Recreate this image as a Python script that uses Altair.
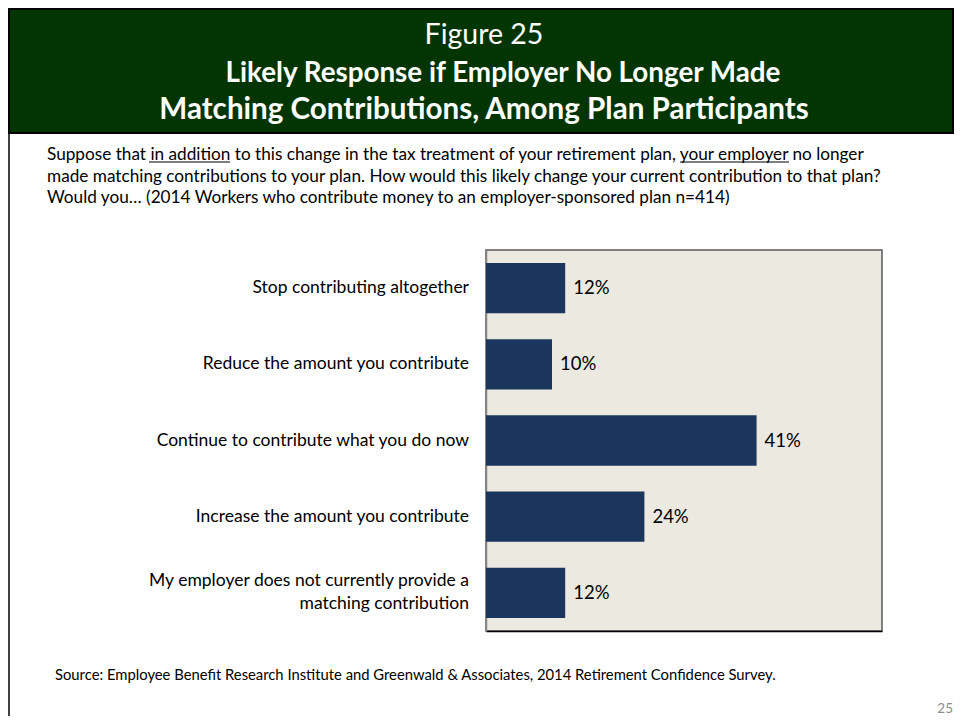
import altair as alt
import pandas as pd

# ---------------- data ----------------
categories = [
    "Stop contributing altogether",
    "Reduce the amount you contribute",
    "Continue to contribute what you do now",
    "Increase the amount you contribute",
    "My employer does not currently provide a|matching contribution",
]
values = [12, 10, 41, 24, 12]
value_labels = ["12%", "10%", "41%", "24%", "12%"]

title_line1 = "Figure 25"
title_bold_lines = [
    "Likely Response if Employer No Longer Made",
    "Matching Contributions, Among Plan Participants",
]
question_lines = [
    "Suppose that in addition to this change in the tax treatment of your retirement plan, your employer no longer",
    "made matching contributions to your plan. How would this likely change your current contribution to that plan?",
    "Would you\u2026 (2014 Workers who contribute money to an employer-sponsored plan n=414)",
]
source_text = "Source:  Employee Benefit Research Institute and Greenwald & Associates, 2014 Retirement Confidence Survey."
page_number = "25"

# ---------------- style ----------------
FONT = "Lato"
GREEN = "#033503"
NAVY = "#1b365d"
BEIGE = "#ece9e0"

W, H = 396, 381          # plot area
PAD_L, PAD_T = 478, 242  # plot origin at page (486, 250)
SVG_W, SVG_H = 946, 708
LABEL_LH = 23


def px(x):
    return x - 486


def py(y):
    return y - 250


df = pd.DataFrame({"cat": categories, "val": values, "lab": value_labels})
df["nlines"] = df["cat"].str.count(r"\|") + 1
one = pd.DataFrame({"a": [0]})

base = alt.Chart(df)
ysc = alt.Scale(paddingInner=0.34, paddingOuter=0.17)

bars = base.mark_bar(color=NAVY).encode(
    x=alt.X("val:Q", scale=alt.Scale(domain=[0, 60]),
            axis=alt.Axis(labels=False, ticks=False, grid=False, title=None,
                          domainColor="#000000", domainWidth=1.5)),
    y=alt.Y("cat:N", sort=categories, scale=ysc,
            axis=alt.Axis(title=None, ticks=False, labels=False,
                          domainColor="#868686", domainWidth=1.5)),
)

bar_text = base.mark_text(align="left", baseline="middle", dx=8, font=FONT,
                          fontSize=18.5, color="#000000").encode(
    x=alt.X("val:Q"), y=alt.Y("cat:N", sort=categories), text="lab:N")

cat_label_base = base.transform_calculate(
    txt="split(datum.cat, '|')"
)
cat_single = cat_label_base.transform_filter("datum.nlines == 1").mark_text(
    align="right", baseline="middle", font=FONT, fontSize=17.5, color="#000000",
    dx=-17).encode(
    x=alt.value(0), y=alt.Y("cat:N", sort=categories), text="txt:N")
cat_double = cat_label_base.transform_filter("datum.nlines == 2").mark_text(
    align="right", baseline="middle", font=FONT, fontSize=17.5, color="#000000",
    dx=-17, dy=-LABEL_LH / 2, lineHeight=LABEL_LH).encode(
    x=alt.value(0), y=alt.Y("cat:N", sort=categories), text="txt:N")

banner = alt.Chart(one).mark_rect(fill=GREEN, stroke="#000000", strokeWidth=2).encode(
    x=alt.value(px(9)), x2=alt.value(px(953)), y=alt.value(py(9)), y2=alt.value(py(133)))

left_line = alt.Chart(one).mark_rule(color="#000000", strokeWidth=1.5).encode(
    x=alt.value(px(9)), y=alt.value(py(133)), y2=alt.value(py(716)))

t1 = alt.Chart(one).mark_text(align="center", baseline="middle", font=FONT,
                              fontSize=28.5, color="#ffffff").encode(
    x=alt.value(px(484)), y=alt.value(py(35)), text=alt.value(title_line1))

t2a = alt.Chart(one).mark_text(align="center", baseline="middle", font=FONT,
                               fontSize=27.8, fontWeight="bold", color="#ffffff").encode(
    x=alt.value(px(503)), y=alt.value(py(74)), text=alt.value(title_bold_lines[0]))
t2b = alt.Chart(one).mark_text(align="center", baseline="middle", font=FONT,
                               fontSize=29.6, fontWeight="bold", color="#ffffff").encode(
    x=alt.value(px(484)), y=alt.value(py(110)), text=alt.value(title_bold_lines[1]))

q = alt.Chart(one).mark_text(align="left", baseline="middle", font=FONT,
                             fontSize=17.2, color="#000000",
                             lineBreak="\n", lineHeight=21.5).encode(
    x=alt.value(px(47)), y=alt.value(py(155)), text=alt.value("\n".join(question_lines)))

underline1 = alt.Chart(one).mark_rule(color="#000000", strokeWidth=1).encode(
    x=alt.value(px(149)), x2=alt.value(px(230)), y=alt.value(py(162)))
underline2 = alt.Chart(one).mark_rule(color="#000000", strokeWidth=1).encode(
    x=alt.value(px(680)), x2=alt.value(px(789)), y=alt.value(py(162)))

src = alt.Chart(one).mark_text(align="left", baseline="middle", font=FONT,
                               fontSize=14.8, color="#000000").encode(
    x=alt.value(px(55)), y=alt.value(py(676)), text=alt.value(source_text))

pn = alt.Chart(one).mark_text(align="right", baseline="middle", font=FONT,
                              fontSize=13.5, color="#8c8c8c").encode(
    x=alt.value(px(953)), y=alt.value(py(709)), text=alt.value(page_number))

chart = alt.layer(
    banner, left_line, t1, t2a, t2b, q, underline1, underline2, src, pn,
    bars, bar_text, cat_single, cat_double
).properties(
    width=W, height=H,
    autosize=alt.AutoSizeParams(type="none"),
    padding={"left": PAD_L, "top": PAD_T, "right": SVG_W - PAD_L - W,
             "bottom": SVG_H - PAD_T - H},
    background="#ffffff",
).configure_view(
    fill=BEIGE, stroke="#595959", strokeWidth=1.5
)

chart.save("out.html", embed_options={"renderer": "svg", "actions": False})
